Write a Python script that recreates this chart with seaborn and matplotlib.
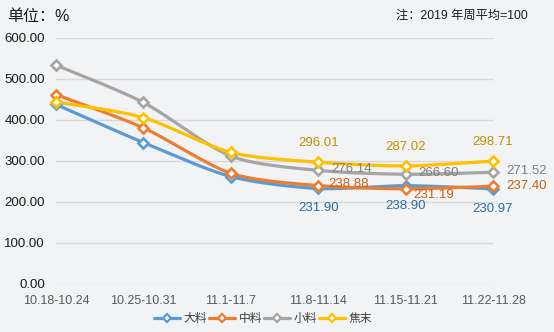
import numpy as np
import pandas as pd
import matplotlib
matplotlib.use("Agg")
import matplotlib.pyplot as plt
from matplotlib.lines import Line2D
import seaborn as sns

weeks = ["10.18-10.24", "10.25-10.31", "11.1-11.7", "11.8-11.14", "11.15-11.21", "11.22-11.28"]
series_names = ["大料", "中料", "小料", "焦末"]
da_liao = [437.0, 344.0, 261.0, 231.90, 238.90, 230.97]
zhong_liao = [461.0, 380.0, 269.0, 238.88, 231.19, 237.40]
xiao_liao = [533.0, 442.0, 311.0, 276.14, 266.60, 271.52]
jiao_mo = [443.0, 405.0, 320.0, 296.01, 287.02, 298.71]
y_ticks = [0, 100, 200, 300, 400, 500, 600]

line_colors = ["#5B9BD5", "#ED7D31", "#A5A5A5", "#FFC000"]
label_colors = ["#2E6C9F", "#C8601A", "#808080", "#BF9000"]
bg = "#F2F3F5"

sns.set_theme(style="white")
plt.rcParams["font.family"] = ["Liberation Sans", "Noto Sans CJK SC", "DejaVu Sans"]


def smooth(xs, ys, n=40, tension=0.8):
    """Cardinal spline through the points, like an office 'smoothed line'."""
    pts = np.column_stack([xs, ys]).astype(float)
    p = np.vstack([pts[0], pts, pts[-1]])
    out = []
    for i in range(1, len(p) - 2):
        p0, p1, p2, p3 = p[i - 1], p[i], p[i + 1], p[i + 2]
        m1 = tension * 0.5 * (p2 - p0)
        m2 = tension * 0.5 * (p3 - p1)
        t = np.linspace(0, 1, n, endpoint=False)[:, None]
        h00 = 2 * t ** 3 - 3 * t ** 2 + 1
        h10 = t ** 3 - 2 * t ** 2 + t
        h01 = -2 * t ** 3 + 3 * t ** 2
        h11 = t ** 3 - t ** 2
        out.append(h00 * p1 + h10 * m1 + h01 * p2 + h11 * m2)
    out.append(pts[-1][None, :])
    out = np.vstack(out)
    return out[:, 0], out[:, 1]


values = [da_liao, zhong_liao, xiao_liao, jiao_mo]
x_idx = np.arange(len(weeks))

rows = []
for name, vals in zip(series_names, values):
    sx, sy = smooth(x_idx, vals)
    rows.append(pd.DataFrame({"x": sx, "y": sy, "series": name}))
curves = pd.concat(rows, ignore_index=True)

fig = plt.figure(figsize=(5.54, 3.32), dpi=100)
fig.patch.set_facecolor(bg)
ax = fig.add_axes([56 / 554, 1 - 283.5 / 332, (493 - 56) / 554, (283.5 - 37.7) / 332])
ax.set_facecolor(bg)

sns.lineplot(data=curves, x="x", y="y", hue="series", hue_order=series_names,
             palette=line_colors, sort=False, estimator=None, units="series",
             linewidth=2.3, legend=False, ax=ax, clip_on=False)

for vals, col in zip(values, line_colors):
    ax.plot(x_idx, vals, linestyle="none", marker="D", markersize=5.5,
            markerfacecolor="white", markeredgecolor=col, markeredgewidth=1.9,
            clip_on=False, zorder=4)

ax.set_xlim(0, len(weeks) - 1)
ax.set_ylim(0, 600)
ax.set_yticks(y_ticks)
ax.set_yticklabels([f"{v:.2f}" for v in y_ticks], fontsize=9.5, color="#1A1A1A")
ax.set_xticks(x_idx)
ax.set_xticklabels(weeks, fontsize=9, color="#595959")
ax.tick_params(axis="y", length=0, pad=8)
ax.tick_params(axis="x", length=0, pad=8)
ax.grid(axis="y", color="#D9D9D9", linewidth=1.0)
ax.grid(axis="x", visible=False)
for s in ax.spines.values():
    s.set_visible(False)
ax.set_xlabel("")
ax.set_ylabel("")

fs = 9.5
# value labels for the last three weeks
for i in range(3, 6):
    ax.annotate(f"{jiao_mo[i]:.2f}", (i, jiao_mo[i]), xytext=(0, 19), textcoords="offset pixels",
                ha="center", va="center", fontsize=fs, color=label_colors[3], annotation_clip=False)
    ax.annotate(f"{xiao_liao[i]:.2f}", (i, xiao_liao[i]), xytext=(13, 1), textcoords="offset pixels",
                ha="left", va="center", fontsize=fs, color=label_colors[2], annotation_clip=False)
    ax.annotate(f"{da_liao[i]:.2f}", (i, da_liao[i]), xytext=(0, -20), textcoords="offset pixels",
                ha="center", va="center", fontsize=fs, color=label_colors[0], annotation_clip=False)
zl_offsets = {3: (10, 2), 4: (8, -6), 5: (13, 0)}
for i, off in zl_offsets.items():
    ax.annotate(f"{zhong_liao[i]:.2f}", (i, zhong_liao[i]), xytext=off, textcoords="offset pixels",
                ha="left", va="center", fontsize=fs, color=label_colors[1], annotation_clip=False)

fig.text(7 / 554, 1 - 17 / 332, "单位：%", fontsize=11.5, color="#1A1A1A", ha="left", va="center")
fig.text(528 / 554, 1 - 16 / 332, "注：2019 年周平均=100", fontsize=8.8, color="#1A1A1A",
         ha="right", va="center")

handles = [Line2D([0], [0], color=c, linewidth=2.3, marker="D", markersize=4.5,
                  markerfacecolor="white", markeredgecolor=c, markeredgewidth=1.6)
           for c in line_colors]
fig.legend(handles, series_names, loc="center", bbox_to_anchor=(263 / 554, 1 - 319 / 332),
           ncol=4, frameon=False, fontsize=8.5, handlelength=2.2, handletextpad=0.3,
           columnspacing=0.15, labelcolor="#404040")

fig.savefig("out.png", dpi=100, facecolor=bg)
